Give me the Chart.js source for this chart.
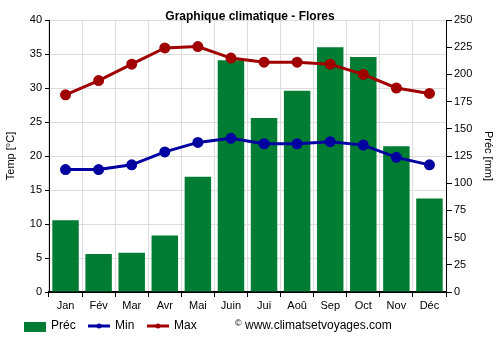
<!DOCTYPE html>
<html>
<head>
<meta charset="utf-8">
<script src="https://cdn.jsdelivr.net/npm/chart.js@4/dist/chart.umd.min.js"></script>
<style>
  html, body { margin: 0; padding: 0; background: #fff; }
  #wrap { width: 500px; height: 350px; }
</style>
</head>
<body>
<div id="wrap"><canvas id="climChart" width="500" height="350"></canvas></div>
<script>
const months = ['Jan', 'Fév', 'Mar', 'Avr', 'Mai', 'Juin', 'Jui', 'Aoû', 'Sep', 'Oct', 'Nov', 'Déc'];
const precip = [66, 35, 36, 52, 106, 213, 160, 185, 225, 216, 134, 86];
const tempMin = [18.0, 18.0, 18.7, 20.6, 22.0, 22.6, 21.8, 21.8, 22.1, 21.6, 19.8, 18.7];
const tempMax = [29.0, 31.1, 33.5, 35.9, 36.1, 34.4, 33.8, 33.8, 33.5, 32.0, 30.0, 29.2];

const green = '#007d32';
const blue = '#0000a0';
const red = '#a00000';
const font = 'Liberation Sans, Arial, sans-serif';

// title + legend + copyright drawn on top
const extras = {
  id: 'extras',
  afterDraw(chart) {
    const c = chart.ctx;
    c.save();
    c.fillStyle = '#000';
    c.font = 'bold 12px ' + font;
    c.textAlign = 'center';
    c.textBaseline = 'middle';
    c.fillText('Graphique climatique - Flores', 250, 17);

    c.font = '12px ' + font;
    c.textAlign = 'left';
    const ly = 326;
    c.fillStyle = green;
    c.fillRect(24, 322, 22, 10);
    c.fillStyle = '#000';
    c.fillText('Préc', 51, ly);

    [[88, blue, 'Min'], [147, red, 'Max']].forEach(([x, col, txt]) => {
      c.strokeStyle = col;
      c.lineWidth = 3;
      c.beginPath();
      c.moveTo(x, ly);
      c.lineTo(x + 22, ly);
      c.stroke();
      c.fillStyle = col;
      c.beginPath();
      c.arc(x + 11, ly, 2.5, 0, Math.PI * 2);
      c.fill();
      c.fillStyle = '#000';
      c.fillText(txt, x + 27, ly);
    });

    c.font = '9px ' + font;
    c.fillText('©', 235, ly - 2);
    c.font = '12px ' + font;
    c.fillText('www.climatsetvoyages.com', 245, ly);
    c.restore();
  }
};

new Chart(document.getElementById('climChart'), {
  type: 'bar',
  data: {
    labels: months,
    datasets: [
      {
        type: 'line',
        label: 'Max',
        data: tempMax,
        yAxisID: 'y',
        borderColor: red,
        backgroundColor: red,
        borderWidth: 3,
        pointRadius: 4,
        pointHoverRadius: 4,
        tension: 0,
        order: 0
      },
      {
        type: 'line',
        label: 'Min',
        data: tempMin,
        yAxisID: 'y',
        borderColor: blue,
        backgroundColor: blue,
        borderWidth: 3,
        pointRadius: 4,
        pointHoverRadius: 4,
        tension: 0,
        order: 1
      },
      {
        label: 'Préc',
        data: precip,
        yAxisID: 'y2',
        backgroundColor: green,
        barPercentage: 0.8,
        categoryPercentage: 1,
        order: 2
      }
    ]
  },
  options: {
    responsive: false,
    animation: false,
    layout: { padding: { top: 20, bottom: 36, left: 0, right: 0 } },
    plugins: {
      legend: { display: false },
      title: { display: false },
      tooltip: { enabled: false }
    },
    scales: {
      x: {
        afterFit: s => { s.height = 22; },
        grid: { color: '#dddddd', offset: true, tickLength: 5, tickColor: '#000' },
        border: { color: '#000', width: 2 },
        ticks: { color: '#000', font: { family: font, size: 11 }, padding: 2 }
      },
      y: {
        position: 'left',
        min: 0,
        max: 40,
        afterFit: s => { s.width = 49; },
        ticks: { stepSize: 5, color: '#000', font: { family: font, size: 11 }, padding: 3 },
        grid: { color: '#dddddd', tickLength: 4, tickColor: '#000' },
        border: { color: '#000', width: 1 },
        title: { display: true, text: 'Temp [°C]', color: '#000', font: { family: font, size: 11 }, padding: 4 }
      },
      y2: {
        position: 'right',
        min: 0,
        max: 250,
        afterFit: s => { s.width = 54; },
        ticks: { stepSize: 25, color: '#000', font: { family: font, size: 11 }, padding: 2 },
        grid: { drawOnChartArea: false, tickLength: 6, tickColor: '#000' },
        border: { color: '#000', width: 1 },
        title: { display: true, text: 'Préc [mm]', color: '#000', font: { family: font, size: 11 }, padding: 5 }
      }
    }
  },
  plugins: [extras]
});
</script>
</body>
</html>
